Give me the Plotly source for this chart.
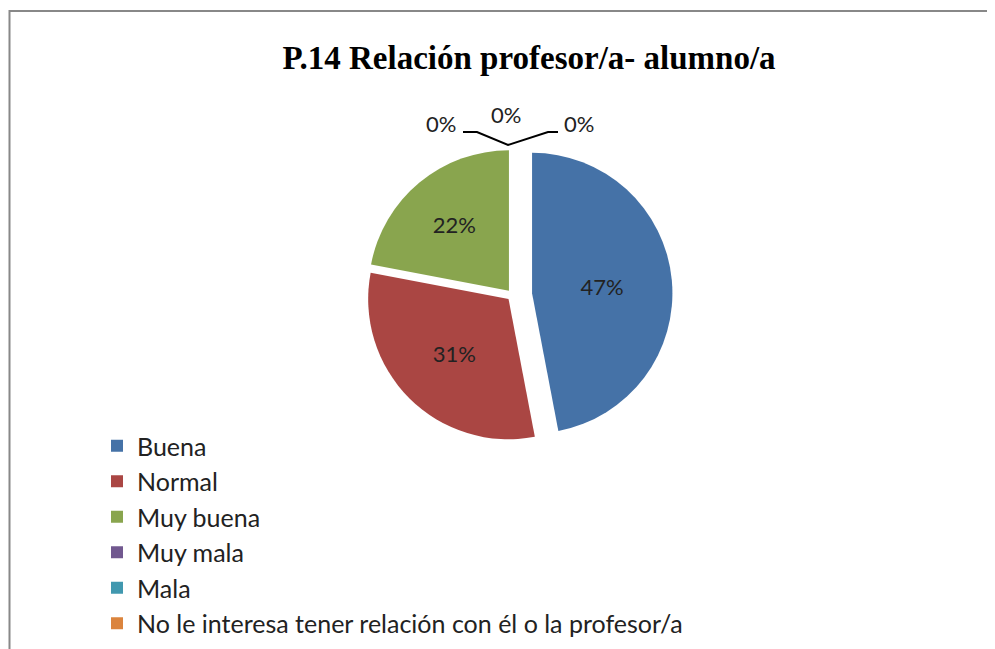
import plotly.graph_objects as go

categories = ["Buena", "Normal", "Muy buena", "Muy mala", "Mala",
              "No le interesa tener relación con él o la profesor/a"]
values = [47, 31, 22, 0, 0, 0]
colors = ["#4572A7", "#AA4643", "#89A54E", "#71588F", "#4198AF", "#DB843D"]
zero_labels = ["0%", "0%", "0%"]

# page body has an 8px margin; figure coordinates are offset by it
OFF = 8
W, H = 995 - OFF, 649 - OFF

def px(x):
    return (x - OFF) / W

def py(y):
    return 1 - (y - OFF) / H

fig = go.Figure()
fig.add_trace(go.Pie(
    labels=categories,
    values=values,
    sort=False,
    direction="clockwise",
    rotation=0,
    pull=[0.14, 0.04, 0.04, 0, 0, 0],
    marker=dict(colors=colors, line=dict(width=0)),
    textinfo="percent",
    texttemplate="%{percent:.0%}",
    textposition=["inside", "inside", "inside", "none", "none", "none"],
    insidetextorientation="horizontal",
    textfont=dict(family="Lato, Open Sans, sans-serif", size=22, color="#222222"),
    domain=dict(x=[px(325), px(700)], y=[py(455), py(135)]),
    showlegend=True,
))

# zero-value labels
for lab, (xx, yy) in zip(zero_labels, [(441, 123), (506, 114), (579, 123)]):
    fig.add_annotation(x=px(xx), y=py(yy), xref="paper", yref="paper",
                       text=lab, showarrow=False, xanchor="center", yanchor="middle",
                       font=dict(family="Lato, Open Sans, sans-serif", size=22, color="#222222"))

# leader lines for zero labels
fig.add_shape(type="path", xref="paper", yref="paper",
              path=(f"M {px(463)},{py(132)} L {px(477)},{py(132)} L {px(508)},{py(145)} "
                    f"L {px(548)},{py(132)} L {px(558)},{py(132)}"),
              line=dict(color="#000000", width=2))

# chart border
fig.add_shape(type="rect", xref="paper", yref="paper",
              x0=px(9.5), x1=px(1010), y0=py(670), y1=py(11),
              line=dict(color="#888888", width=2))

fig.update_layout(
    width=W, height=H,
    margin=dict(l=0, r=0, t=0, b=0),
    paper_bgcolor="white",
    plot_bgcolor="white",
    title=dict(text="<b>P.14 Relación profesor/a- alumno/a</b>",
               x=px(529), y=py(57), xanchor="center", yanchor="middle",
               font=dict(family="Liberation Serif, serif", size=33, color="#000000")),
    legend=dict(x=px(97), y=py(423), xanchor="left", yanchor="top",
                font=dict(family="Lato, Open Sans, sans-serif", size=25, color="#222222"),
                bgcolor="rgba(0,0,0,0)", traceorder="normal"),
)

fig.write_html("out.html")
